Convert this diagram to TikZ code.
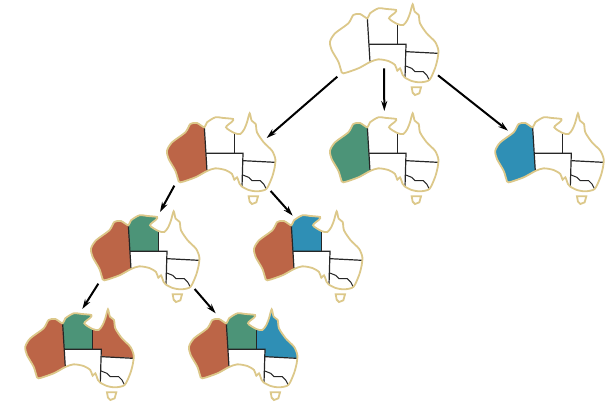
\documentclass[tikz,border=0pt]{standalone}
\usetikzlibrary{arrows.meta}

\definecolor{mapline}{HTML}{DCC88A}
\definecolor{mapred}{HTML}{BC6547}
\definecolor{mapgreen}{HTML}{4C9478}
\definecolor{mapblue}{HTML}{2F8FB5}

\tikzset{
  outline/.style = {insert path={plot[smooth cycle, tension=.45] coordinates {
    (142,55) (150,40) (175,25) (200,27) (228,30) (225,38) (207,55) (232,72)
    (250,75) (262,60) (270,40) (278,13) (284,35) (296,45) (300,70) (320,100)
    (345,125) (355,150) (353,175) (345,205) (328,240) (300,247) (275,243)
    (255,233) (248,225) (240,205) (232,212) (225,195) (205,183) (175,178)
    (150,186) (115,205) (70,220) (63,210) (55,185) (35,150) (30,125) (45,100)
    (85,70) (100,45) (120,42)}}},
  border/.style = {line width=1.2pt, black!85},
  coast/.style = {line width=1.8pt, mapline},
  pics/australia/.style n args = {3}{code = {
    \begin{scope}[scale=1/3]
      \begin{scope}
        \clip[outline];
        \fill[white] (0,0) rectangle (390,260);
        \fill[#1] (0,0) -- (142,0) -- (142,55) -- (150,186) -- (150,260) -- (0,260) -- cycle;
        \fill[#2] (142,0) -- (232,0) -- (232,133) -- (147,133) -- (142,55) -- cycle;
        \fill[#3] (232,0) -- (390,0) -- (390,160) -- (258,155) -- (258,133) -- (232,133) -- cycle;
      \end{scope}
      \draw[border] (142,55) -- (150,186);
      \draw[border] (147,133) -- (258,133) -- (255,233);
      \draw[border] (232,72) -- (232,133);
      \draw[border] (258,155) -- (355,160);
      \draw[border, line width=1pt] (255,197) -- (275,205) -- (285,215) -- (310,215) -- (320,225) -- (328,240);
      \draw[coast, outline];
      \draw[coast] (275,262) -- (303,262) -- (298,280) -- (285,285) -- (278,278) -- cycle;
      % arrow ends
      \coordinate (-sw) at (52,230);
      \coordinate (-s) at (192,205);
      \coordinate (-se) at (354,226);
      \coordinate (-sel) at (341,246);
      \coordinate (-top) at (193,6);
      \coordinate (-ne) at (329,87);
      \coordinate (-nw) at (68,65);
      \coordinate (-nl) at (237,15);
      \coordinate (-nr) at (146,26);
      \coordinate (-nb) at (201,12);
      \coordinate (-nc) at (110,25);
    \end{scope}
  }},
  link/.style = {line width=2pt, -{Stealth[length=10pt, width=6pt]}}
}

\begin{document}
\begin{tikzpicture}[x=1pt, y=-1pt]
  \useasboundingbox (0,0) rectangle (612,402);

  \pic (root) at (320,0) {australia={white}{white}{white}};
  \pic (w) at (157,109) {australia={mapred}{white}{white}};
  \pic (g) at (320,109) {australia={mapgreen}{white}{white}};
  \pic (b) at (485.3,109) {australia={mapblue}{white}{white}};
  \pic (wg) at (81,207) {australia={mapred}{mapgreen}{white}};
  \pic (wb) at (244,207) {australia={mapred}{mapblue}{white}};
  \pic (wgr) at (15.3,305) {australia={mapred}{mapgreen}{mapred}};
  \pic (wgb) at (179,305) {australia={mapred}{mapgreen}{mapblue}};

  \draw[link] (root-sw) -- (w-ne);
  \draw[link] (root-s) -- (g-top);
  \draw[link] (root-se) -- (b-nw);
  \draw[link] (w-sw) -- (wg-nl);
  \draw[link] (w-sel) -- (wb-nr);
  \draw[link] (wg-sw) -- (wgr-nb);
  \draw[link] (wg-sel) -- (wgb-nc);
\end{tikzpicture}
\end{document}
